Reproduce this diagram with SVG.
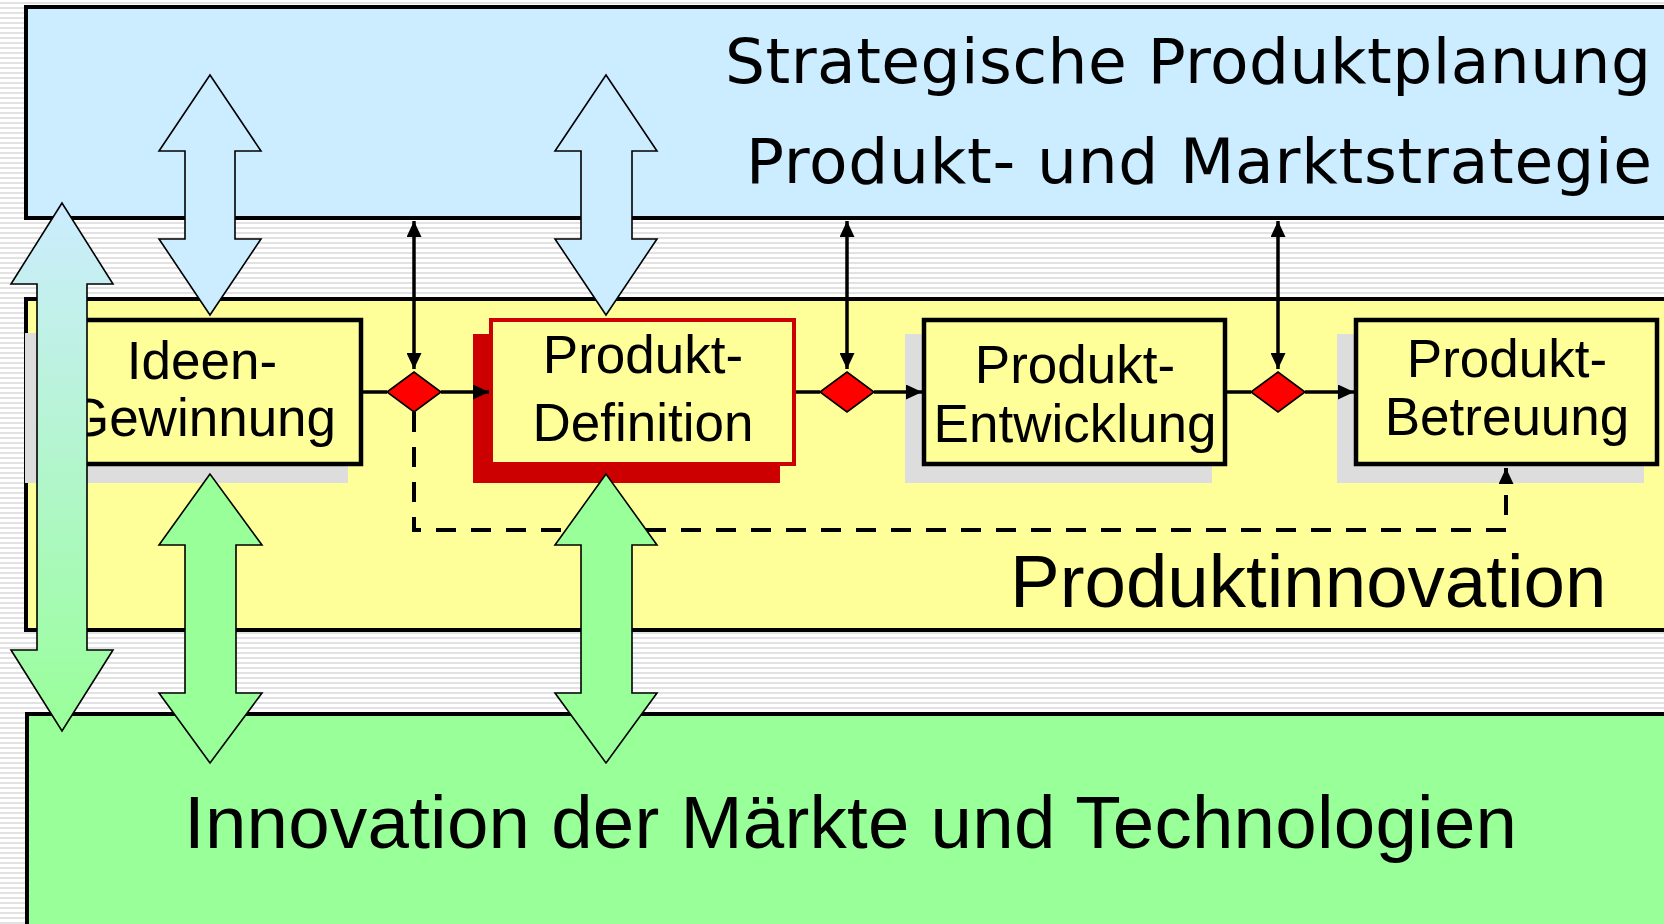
<svg xmlns="http://www.w3.org/2000/svg" width="1664" height="924" viewBox="0 0 1664 924">
  <defs>
    <pattern id="stripes" width="10" height="5" patternUnits="userSpaceOnUse">
      <rect width="10" height="5" fill="#ffffff"/>
      <rect y="2" width="10" height="2" fill="#e2e2e2"/>
    </pattern>
    <linearGradient id="sideGrad" gradientUnits="userSpaceOnUse" x1="0" y1="203" x2="0" y2="731">
      <stop offset="0" stop-color="#ccecff"/>
      <stop offset="1" stop-color="#99ff99"/>
    </linearGradient>
    <marker id="tip" viewBox="0 0 16 15" refX="16" refY="7.5" markerWidth="16" markerHeight="15" markerUnits="userSpaceOnUse" orient="auto-start-reverse">
      <path d="M0,0 L16,7.5 L0,15 z" fill="#000"/>
    </marker>
    <style>
      .band { stroke: #000; stroke-width: 4; }
      .box { fill: #ffff99; stroke: #000; stroke-width: 4.5; }
      .shadow { fill: #dddddd; }
      .label { font-family: "Liberation Sans", Arial, sans-serif; font-size: 53px; fill: #000; text-anchor: middle; }
      .title { font-family: "DejaVu Sans", Verdana, sans-serif; font-size: 63px; fill: #000; }
      .big { font-family: "Liberation Sans", Arial, sans-serif; font-size: 74.5px; fill: #000; }
      .flow { fill: none; stroke: #000; stroke-width: 3.5; }
      .dash { fill: none; stroke: #000; stroke-width: 4; stroke-dasharray: 20 15; }
      .gate { fill: #ff0000; stroke: #000; stroke-width: 1.6; }
      .fat { stroke: #000; stroke-width: 1.6; stroke-linejoin: miter; }
    </style>
  </defs>

  <!-- striped backdrop -->
  <rect width="1664" height="924" fill="url(#stripes)"/>

  <!-- layer bands -->
  <g id="strategie">
    <rect class="band" x="26" y="7" width="1700" height="211" fill="#ccecff"/>
    <text class="title" x="725" y="83" textLength="926" lengthAdjust="spacing">Strategische Produktplanung</text>
    <text class="title" x="746" y="183" textLength="906" lengthAdjust="spacing">Produkt- und Marktstrategie</text>
  </g>
  <g id="produktinnovation">
    <rect class="band" x="26" y="299" width="1700" height="331" fill="#ffff99"/>
    <text class="big" x="1010" y="607">Produktinnovation</text>
  </g>
  <g id="maerkte">
    <rect class="band" x="27" y="714" width="1700" height="260" fill="#99ff99"/>
    <text class="big" x="184" y="848" textLength="1333" lengthAdjust="spacing">Innovation der Märkte und Technologien</text>
  </g>

  <!-- process steps -->
  <g id="ideen">
    <rect class="shadow" x="25" y="333" width="323" height="150"/>
    <rect class="box" x="43" y="320" width="318" height="144"/>
    <text class="label" x="202" y="379">Ideen-</text>
    <text class="label" x="202" y="436">Gewinnung</text>
  </g>
  <g id="definition">
    <rect x="473" y="334" width="307" height="149" fill="#cc0000"/>
    <rect x="491" y="320" width="303" height="144" fill="#ffff99" stroke="#cc0000" stroke-width="4"/>
    <text class="label" x="643" y="373">Produkt-</text>
    <text class="label" x="643" y="441">Definition</text>
  </g>
  <g id="entwicklung">
    <rect class="shadow" x="905" y="334" width="307" height="149"/>
    <rect class="box" x="924" y="320" width="301" height="144"/>
    <text class="label" x="1075" y="383">Produkt-</text>
    <text class="label" x="1075" y="442">Entwicklung</text>
  </g>
  <g id="betreuung">
    <rect class="shadow" x="1337" y="334" width="307" height="149"/>
    <rect class="box" x="1356" y="320" width="301" height="144"/>
    <text class="label" x="1507" y="377">Produkt-</text>
    <text class="label" x="1507" y="435">Betreuung</text>
  </g>

  <!-- decision gates -->
  <g id="gates">
    <polygon class="gate" points="387,392 414,372 441,392 414,412"/>
    <polygon class="gate" points="820,392 847,372 874,392 847,412"/>
    <polygon class="gate" points="1251,392 1278,372 1305,392 1278,412"/>
  </g>

  <!-- connectors -->
  <g id="connectors">
    <line class="flow" x1="362" y1="392" x2="387" y2="392"/>
    <line class="flow" x1="441" y1="392" x2="489" y2="392" marker-end="url(#tip)"/>
    <line class="flow" x1="796" y1="392" x2="820" y2="392"/>
    <line class="flow" x1="874" y1="392" x2="922" y2="392" marker-end="url(#tip)"/>
    <line class="flow" x1="1227" y1="392" x2="1251" y2="392"/>
    <line class="flow" x1="1305" y1="392" x2="1354" y2="392" marker-end="url(#tip)"/>

    <line class="flow" x1="414" y1="221" x2="414" y2="369" marker-start="url(#tip)" marker-end="url(#tip)"/>
    <line class="flow" x1="847" y1="221" x2="847" y2="369" marker-start="url(#tip)" marker-end="url(#tip)"/>
    <line class="flow" x1="1278" y1="221" x2="1278" y2="369" marker-start="url(#tip)" marker-end="url(#tip)"/>

    <path class="dash" d="M414,412 V530 H1506 V468" marker-end="url(#tip)"/>
  </g>

  <!-- exchange arrows between the layers -->
  <g id="exchange">
    <polygon class="fat" fill="#ccecff" points="210,75 159,151 185,151 185,239 159,239 210,315 261,239 235,239 235,151 261,151"/>
    <polygon class="fat" fill="#ccecff" points="606,75 555,151 581,151 581,239 555,239 606,315 657,239 632,239 632,151 657,151"/>
    <polygon class="fat" fill="#99ff99" points="210,474 159,545 185,545 185,693 159,693 210,763 262,693 236,693 236,545 262,545"/>
    <polygon class="fat" fill="#99ff99" points="606,474 555,545 581,545 581,693 555,693 606,763 657,693 632,693 632,545 657,545"/>
    <polygon class="fat" fill="url(#sideGrad)" points="62,203 11,284 37,284 37,650 11,650 62,731 113,650 87,650 87,284 113,284"/>
  </g>
</svg>
